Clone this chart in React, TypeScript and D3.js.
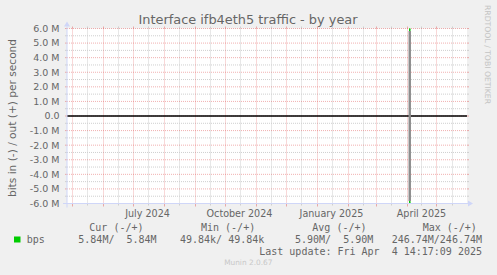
import React from "react";
import * as d3 from "d3";

const title = "Interface ifb4eth5 traffic - by year";
const yAxisTitle = "bits in (-) / out (+) per second";
const yTickValues = [6e6, 5e6, 4e6, 3e6, 2e6, 1e6, 0, -1e6, -2e6, -3e6, -4e6, -5e6, -6e6];
const yTickLabels = ["6.0 M", "5.0 M", "4.0 M", "3.0 M", "2.0 M", "1.0 M", "0.0", "-1.0 M", "-2.0 M", "-3.0 M", "-4.0 M", "-5.0 M", "-6.0 M"];
const xLabelDates = ["2024-07-16", "2024-10-16", "2025-01-16", "2025-04-16"];
const xTickLabels = ["July 2024", "October 2024", "January 2025", "April 2025"];
const seriesDates = ["2025-04-04T00:00:00Z", "2025-04-04T06:00:00Z", "2025-04-04T14:17:09Z"];
const outValues = [49840, 246740000, 5840000];
const inValues = [49840, 246740000, 5840000];
const seriesName = "bps";
const legendHeaders = ["Cur (-/+)", "Min (-/+)", "Avg (-/+)", "Max (-/+)"];
const legendValues = ["5.84M/  5.84M", "49.84k/ 49.84k", "5.90M/  5.90M", "246.74M/246.74M"];
const lastUpdate = "Last update: Fri Apr  4 14:17:09 2025";
const footer = "Munin 2.0.67";
const watermark = "RRDTOOL / TOBI OETIKER";

const W = 497, H = 275;
const X0 = 67, X1 = 467, YT = 28.5, YB = 203.5;
const domainStart = new Date("2024-04-26T12:00:00Z");
const domainEnd = new Date("2025-05-31T12:00:00Z");
const GREEN = "#00cc00";
const AXIS = "#cfd6f8";
const MAJOR = "rgba(222,79,79,0.45)";
const MINOR = "#cfcfcf";
const FONT = "#666666";

export default function App() {
  const x = d3.scaleUtc().domain([domainStart, domainEnd]).range([X0, X1]);
  const y = d3.scaleLinear().domain([-6e6, 6e6]).range([YB, YT]);
  const majorX = d3.utcMonth.range(domainStart, domainEnd);
  const minorX = d3.utcMonth.range(d3.utcMonth.offset(domainStart, -1), domainEnd)
    .map((d) => d3.utcDay.offset(d, 15))
    .filter((d) => d > domainStart && d < domainEnd);
  const minorY = d3.range(-5.5e6, 6e6, 1e6);
  const dates = seriesDates.map((s) => new Date(s));
  const outPts = dates.map((d, i) => [x(d), y(outValues[i])] as [number, number]);
  const inPts = dates.map((d, i) => [x(d), y(-inValues[i])] as [number, number]);
  const line = d3.line();
  const maxIdx = d3.maxIndex(outValues);
  const spikeX = x(dates[maxIdx]);
  const legendHeaderX = [89.3, 201, 312.3, 422.7];
  const legendValueX = [78.3, 180, 295, 391.7];
  const mono = "'DejaVu Sans Mono', monospace";
  const sans = "'DejaVu Sans', sans-serif";

  return (
    <svg width={W} height={H} style={{ position: "absolute", left: 0, top: 0, background: "#f0f0f0" }}>
      <rect x={0} y={0} width={W} height={H} fill="#f0f0f0" />
      <defs>
        <clipPath id="plot">
          <rect x={X0} y={YT} width={X1 - X0} height={YB - YT} />
        </clipPath>
      </defs>
      <rect x={X0} y={YT} width={X1 - X0} height={YB - YT} fill="#ffffff" />
      {minorY.map((v, i) => (
        <g key={"my" + i}>
          <line x1={X0 - 2} x2={X0} y1={y(v)} y2={y(v)} stroke={MINOR} />
          <line x1={X0} x2={X1} y1={y(v)} y2={y(v)} stroke={MINOR} strokeDasharray="1,1" />
          <line x1={X1} x2={X1 + 2} y1={y(v)} y2={y(v)} stroke={MINOR} />
        </g>
      ))}
      {minorX.map((d, i) => (
        <g key={"mx" + i}>
          <line x1={Math.round(x(d)) + 0.5} x2={Math.round(x(d)) + 0.5} y1={YT} y2={YB} stroke={MINOR} strokeDasharray="1,1" />
          <line x1={Math.round(x(d)) + 0.5} x2={Math.round(x(d)) + 0.5} y1={YB} y2={YB + 2} stroke={MINOR} />
          <line x1={Math.round(x(d)) + 0.5} x2={Math.round(x(d)) + 0.5} y1={YT - 2} y2={YT} stroke={MINOR} />
        </g>
      ))}
      {yTickValues.map((v, i) => (
        <g key={"My" + i}>
          <line x1={X0 - 2} x2={X0} y1={y(v)} y2={y(v)} stroke={MAJOR} />
          <line x1={X0} x2={X1} y1={y(v)} y2={y(v)} stroke={MAJOR} strokeDasharray="1,1" />
          <line x1={X1} x2={X1 + 2} y1={y(v)} y2={y(v)} stroke={MAJOR} />
        </g>
      ))}
      {majorX.map((d, i) => (
        <g key={"Mx" + i}>
          <line x1={Math.round(x(d)) + 0.5} x2={Math.round(x(d)) + 0.5} y1={YT} y2={YB} stroke={MAJOR} strokeDasharray="1,1" />
          <line x1={Math.round(x(d)) + 0.5} x2={Math.round(x(d)) + 0.5} y1={YB} y2={YB + 3} stroke={MAJOR} />
          <line x1={Math.round(x(d)) + 0.5} x2={Math.round(x(d)) + 0.5} y1={YT - 2} y2={YT} stroke={MAJOR} />
        </g>
      ))}
      <line x1={X0} x2={X1} y1={y(0)} y2={y(0)} stroke="#000" strokeWidth={1.4} />
      <g clipPath="url(#plot)">
        <path d={line(outPts) ?? ""} fill="none" stroke={GREEN} strokeWidth={1} />
        <path d={line(inPts) ?? ""} fill="none" stroke={GREEN} strokeWidth={1} />
        <line x1={spikeX} x2={spikeX} y1={YT + 2.5} y2={YB - 2.5} stroke="#8c8c8c" strokeWidth={2.4} />
      </g>
      <line x1={X0 - 4} x2={X1 + 2} y1={YB} y2={YB} stroke={AXIS} />
      <path d={`M${X1 + 1},${YB - 3} L${X1 + 6},${YB} L${X1 + 1},${YB + 3} Z`} fill={AXIS} />
      <line x1={X0} x2={X0} y1={YB + 4} y2={YT - 2} stroke={AXIS} />
      <path d={`M${X0 - 3},${YT - 2} L${X0},${YT - 7} L${X0 + 3},${YT - 2} Z`} fill={AXIS} />
      {yTickValues.map((v, i) => (
        <text key={"yl" + i} x={59.5} y={y(v) + 3.4} textAnchor="end" fontFamily={sans} fontSize={9.5} fill={FONT}>
          {yTickLabels[i]}
        </text>
      ))}
      {xLabelDates.map((s, i) => (
        <text key={"xl" + i} x={x(new Date(s + "T00:00:00Z"))} y={216.5} textAnchor="middle" fontFamily={sans} fontSize={9.6} fill={FONT}>
          {xTickLabels[i]}
        </text>
      ))}
      <text x={248} y={23.5} textAnchor="middle" fontFamily={sans} fontSize={12.9} fill={FONT}>{title}</text>
      <text transform={`translate(15.5,${118}) rotate(-90)`} textAnchor="middle" fontFamily={sans} fontSize={10.6} fill={FONT}>
        {yAxisTitle}
      </text>
      <text transform={`translate(485,5) rotate(90)`} fontFamily={sans} fontSize={7.7} fill="#c4c4c4">{watermark}</text>
      {legendHeaders.map((h, i) => (
        <text key={"lh" + i} x={legendHeaderX[i]} y={231} fontFamily={mono} fontSize={10} fill={FONT} style={{ whiteSpace: "pre" }}>{h}</text>
      ))}
      <rect x={14} y={236.5} width={6.5} height={6} fill={GREEN} />
      <text x={26.7} y={243.3} fontFamily={mono} fontSize={10} fill={FONT}>{seriesName}</text>
      {legendValues.map((v, i) => (
        <text key={"lv" + i} x={legendValueX[i]} y={243.3} fontFamily={mono} fontSize={10} fill={FONT} style={{ whiteSpace: "pre" }}>{v}</text>
      ))}
      <text x={482} y={255} textAnchor="end" fontFamily={mono} fontSize={10} fill={FONT} style={{ whiteSpace: "pre" }}>{lastUpdate}</text>
      <text x={248.3} y={265} textAnchor="middle" fontFamily={sans} fontSize={7.4} fill="#c8c8c8">{footer}</text>
    </svg>
  );
}
